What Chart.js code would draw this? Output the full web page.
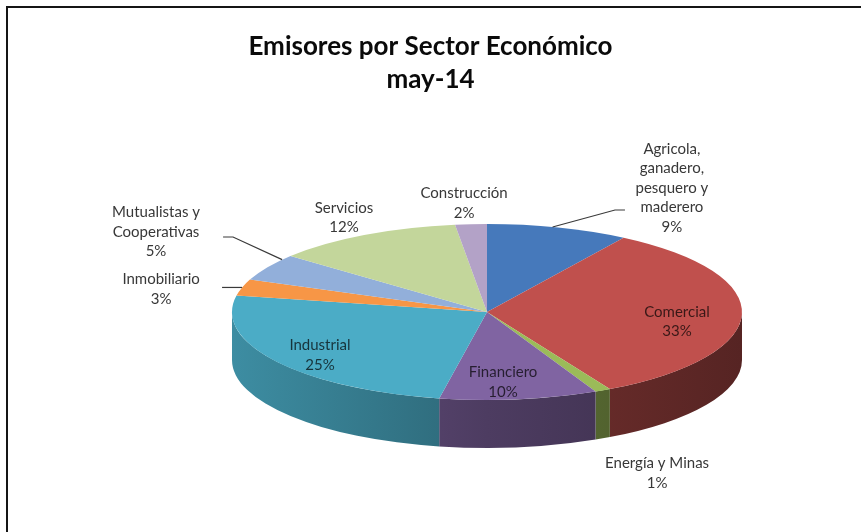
<!DOCTYPE html>
<html>
<head>
<meta charset="utf-8">
<script src="https://cdn.jsdelivr.net/npm/chart.js@4.4.1/dist/chart.umd.min.js"></script>
<style>
html,body{margin:0;padding:0;background:#fff;overflow:hidden}
#wrap{position:relative;width:861px;height:532px;overflow:hidden}
#frame{position:absolute;left:6px;top:6px;width:900px;height:600px;border-top:2px solid #151515;border-left:2px solid #151515}
#c{position:absolute;left:0;top:0}
</style>
</head>
<body>
<div id="wrap"><div id="frame"></div><canvas id="c" width="861" height="532"></canvas></div>
<script>
// ---- data ----
const titleLines = ['Emisores por Sector Económico', 'may-14'];
const categories = [
  'Agricola, ganadero, pesquero y maderero',
  'Comercial',
  'Energía y Minas',
  'Financiero',
  'Industrial',
  'Inmobiliario',
  'Mutualistas y Cooperativas',
  'Servicios',
  'Construcción'
];
const labelLines = [
  ['Agricola,', 'ganadero,', 'pesquero y', 'maderero'],
  ['Comercial'],
  ['Energía y Minas'],
  ['Financiero'],
  ['Industrial'],
  ['Inmobiliario'],
  ['Mutualistas y', 'Cooperativas'],
  ['Servicios'],
  ['Construcción']
];
const shares = [9, 33, 1, 10, 25, 3, 5, 12, 2];
const sliceColors = ['#4679BB', '#C0504D', '#9BBB59', '#8064A2', '#4BACC6', '#F79646', '#92AFDA', '#C3D69B', '#B3A2C7'];

// ---- layout of the tilted pie (styling, not data) ----
const pieGeom = { cx: 487, cy: 312, rx: 255, ry: 88, depth: 48 };
// label anchors in pie-normalised units (u * rx, v * ry from the pie centre)
const labelPlace = [
  { u: 0.725, v: -1.41, inside: false, leader: { frac: 0.46, pts: [[0.502, -1.159], [0.541, -1.159]] } },
  { u: 0.745, v: 0.11, inside: true },
  { u: 0.667, v: 1.83, inside: false },
  { u: 0.063, v: 0.795, inside: true },
  { u: -0.655, v: 0.49, inside: true },
  { u: -1.278, v: -0.26, inside: false, leader: { frac: 0.5, pts: [[-1.039, null]] } },
  { u: -1.298, v: -0.91, inside: false, leader: { frac: 0.83, pts: [[-0.996, -0.852], [-1.035, -0.852]] } },
  { u: -0.561, v: -1.07, inside: false },
  { u: -0.090, v: -1.24, inside: false }
];

function shade(hex, f) {
  const n = parseInt(hex.slice(1), 16);
  const r = Math.round(((n >> 16) & 255) * f), g = Math.round(((n >> 8) & 255) * f), b = Math.round((n & 255) * f);
  return `rgb(${r},${g},${b})`;
}

const pie3d = {
  id: 'pie3d',
  beforeDatasetsDraw(chart) {
    const meta = chart.getDatasetMeta(0);
    const first = meta.data[0];
    const R = first.outerRadius, cx = first.x, cy = first.y;
    const sx = pieGeom.rx / R, sy = pieGeom.ry / R;
    const ctx = chart.ctx;
    ctx.save();
    ctx.translate(pieGeom.cx, pieGeom.cy);
    ctx.scale(sx, sy);
    ctx.translate(-cx, -cy);
    const dl = pieGeom.depth / sy;
    meta.data.forEach((arc, i) => {
      const s = Math.max(arc.startAngle, 0), e = Math.min(arc.endAngle, Math.PI);
      if (e <= s) return;
      const grad = ctx.createLinearGradient(cx - R, 0, cx + R, 0);
      grad.addColorStop(0, shade(sliceColors[i], 0.82));
      grad.addColorStop(0.5, shade(sliceColors[i], 0.6));
      grad.addColorStop(1, shade(sliceColors[i], 0.45));
      ctx.beginPath();
      ctx.arc(cx, cy, R, s, e);
      ctx.arc(cx, cy + dl, R, e, s, true);
      ctx.closePath();
      ctx.fillStyle = grad;
      ctx.fill();
    });
  },
  afterDatasetsDraw(chart) {
    const ctx = chart.ctx;
    ctx.restore();
    const meta = chart.getDatasetMeta(0);
    const P = (u, v) => [pieGeom.cx + u * pieGeom.rx, pieGeom.cy + v * pieGeom.ry];
    ctx.save();
    // leader lines
    ctx.strokeStyle = '#3a3a3a';
    ctx.lineWidth = 1.2;
    labelPlace.forEach((lp, i) => {
      if (!lp.leader) return;
      const arc = meta.data[i];
      const a = arc.startAngle + lp.leader.frac * (arc.endAngle - arc.startAngle);
      const sxp = pieGeom.cx + pieGeom.rx * Math.cos(a), syp = pieGeom.cy + pieGeom.ry * Math.sin(a);
      ctx.beginPath();
      ctx.moveTo(sxp, syp);
      let lastY = syp;
      lp.leader.pts.forEach(([u, v]) => {
        const x = pieGeom.cx + u * pieGeom.rx;
        const y = v === null ? lastY : pieGeom.cy + v * pieGeom.ry;
        ctx.lineTo(x, y); lastY = y;
      });
      ctx.stroke();
    });
    // labels
    ctx.font = '15px Lato';
    ctx.textAlign = 'center';
    ctx.textBaseline = 'middle';
    const lh = 19.6;
    labelPlace.forEach((lp, i) => {
      const lines = labelLines[i].concat([shares[i] + '%']);
      const [x, y] = P(lp.u, lp.v);
      ctx.fillStyle = lp.inside ? 'rgba(0,0,0,0.7)' : '#383838';
      const top = y - (lines.length - 1) * lh / 2;
      lines.forEach((t, k) => ctx.fillText(t, x, top + k * lh));
    });
    ctx.restore();
  }
};

new Chart(document.getElementById('c'), {
  type: 'pie',
  data: {
    labels: categories,
    datasets: [{
      data: shares,
      backgroundColor: sliceColors,
      borderWidth: 0,
      clip: false
    }]
  },
  options: {
    responsive: false,
    animation: false,
    events: [],
    rotation: 0,
    layout: { padding: { top: 0, bottom: 5, left: 0, right: 0 } },
    plugins: {
      legend: { display: false },
      tooltip: { enabled: false },
      title: {
        display: true,
        text: titleLines,
        color: '#0a0a0a',
        font: { family: 'Lato', size: 26, weight: 'bold', lineHeight: 1.27 },
        padding: { top: 30, bottom: 8 }
      }
    }
  },
  plugins: [pie3d]
});
</script>
</body>
</html>
